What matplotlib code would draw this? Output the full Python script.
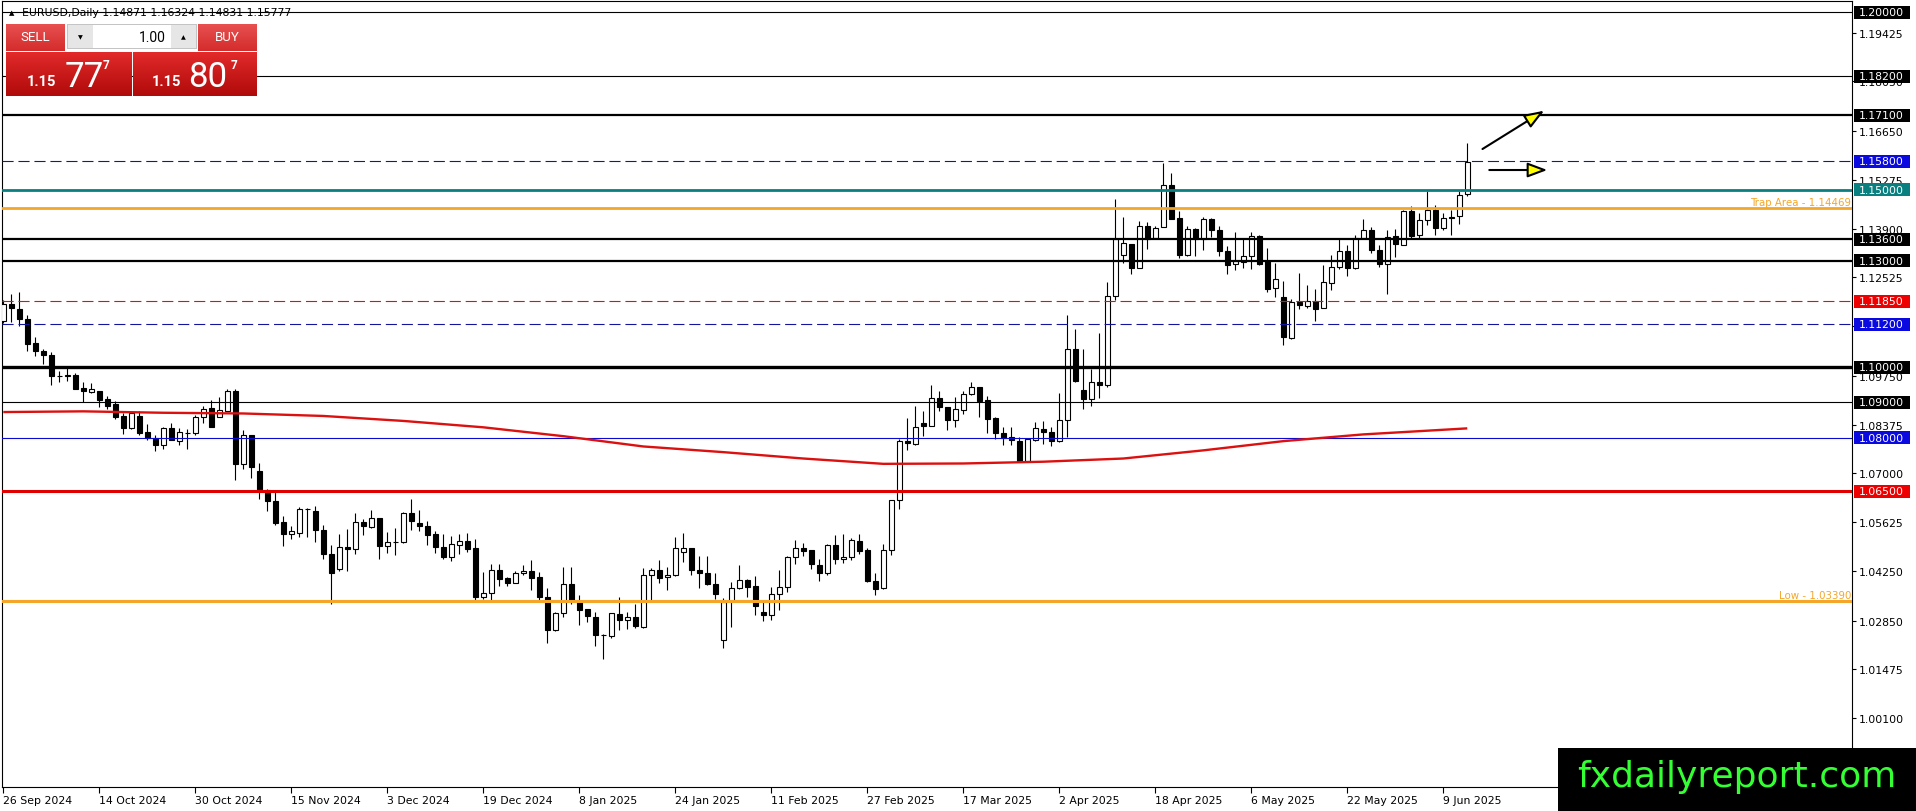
import matplotlib
matplotlib.use("Agg")
import matplotlib.pyplot as plt
import numpy as np
from matplotlib.patches import Rectangle
from matplotlib.colors import LinearSegmentedColormap

plt.rcParams["font.family"] = ["DejaVu Sans"]
plt.rcParams["lines.scale_dashes"] = False

W, H = 1916, 812

# EURUSD daily bars, 26 Sep 2024 .. 12 Jun 2025 (one value per bar)
opens = [
    1.1129, 1.1178, 1.1164, 1.1135, 1.1067, 1.1046, 1.1033, 1.0976, 1.0976, 1.0978,
    1.0941, 1.0929, 1.0931, 1.0910, 1.0895, 1.0862, 1.0828, 1.0863, 1.0816, 1.0801,
    1.0781, 1.0828, 1.0792, 1.0814, 1.0814, 1.0858, 1.0884, 1.0860, 1.0877, 1.0931,
    1.0727, 1.0807, 1.0708, 1.0654, 1.0623, 1.0564, 1.0529, 1.0531, 1.0599, 1.0595,
    1.0540, 1.0474, 1.0431, 1.0493, 1.0487, 1.0564, 1.0549, 1.0575, 1.0496, 1.0507,
    1.0507, 1.0587, 1.0559, 1.0552, 1.0528, 1.0493, 1.0464, 1.0499, 1.0510, 1.0490,
    1.0351, 1.0363, 1.0428, 1.0404, 1.0391, 1.0420, 1.0426, 1.0407, 1.0352, 1.0258,
    1.0307, 1.0389, 1.0338, 1.0317, 1.0296, 1.0244, 1.0241, 1.0304, 1.0286, 1.0296,
    1.0266, 1.0413, 1.0428, 1.0408, 1.0413, 1.0479, 1.0491, 1.0429, 1.0419, 1.0389,
    1.0231, 1.0341, 1.0377, 1.0400, 1.0382, 1.0309, 1.0302, 1.0360, 1.0380, 1.0463,
    1.0490, 1.0483, 1.0443, 1.0419, 1.0499, 1.0458, 1.0464, 1.0509, 1.0483, 1.0397,
    1.0377, 1.0483, 1.0625, 1.0790, 1.0784, 1.0842, 1.0835, 1.0912, 1.0887, 1.0851,
    1.0880, 1.0923, 1.0945, 1.0907, 1.0856, 1.0813, 1.0802, 1.0792, 1.0736, 1.0795,
    1.0825, 1.0818, 1.0792, 1.0851, 1.1052, 1.0935, 1.0910, 1.0959, 1.0949, 1.1200,
    1.1317, 1.1347, 1.1280, 1.1397, 1.1363, 1.1395, 1.1514, 1.1420, 1.1315, 1.1390,
    1.1362, 1.1418, 1.1387, 1.1327, 1.1290, 1.1296, 1.1313, 1.1369, 1.1299, 1.1223,
    1.1198, 1.1083, 1.1183, 1.1172, 1.1185, 1.1167, 1.1237, 1.1282, 1.1327, 1.1279,
    1.1364, 1.1387, 1.1331, 1.1290, 1.1369, 1.1343, 1.1440, 1.1373, 1.1415, 1.1444,
    1.1392, 1.1423, 1.1425, 1.14871,
]
highs = [
    1.1190, 1.1206, 1.1212, 1.1148, 1.1084, 1.1052, 1.1042, 1.0988, 1.0997, 1.0983,
    1.0958, 1.0954, 1.0933, 1.0917, 1.0903, 1.0871, 1.0872, 1.0875, 1.0840, 1.0809,
    1.0830, 1.0842, 1.0828, 1.0826, 1.0865, 1.0891, 1.0908, 1.0915, 1.0938, 1.0938,
    1.0823, 1.0809, 1.0728, 1.0656, 1.0652, 1.0581, 1.0553, 1.0605, 1.0602, 1.0609,
    1.0554, 1.0498, 1.0530, 1.0543, 1.0587, 1.0571, 1.0597, 1.0575, 1.0535, 1.0545,
    1.0590, 1.0629, 1.0596, 1.0566, 1.0538, 1.0529, 1.0524, 1.0528, 1.0533, 1.0515,
    1.0423, 1.0445, 1.0445, 1.0409, 1.0425, 1.0441, 1.0456, 1.0423, 1.0376, 1.0310,
    1.0437, 1.0435, 1.0357, 1.0317, 1.0310, 1.0248, 1.0307, 1.0352, 1.0310, 1.0331,
    1.0433, 1.0433, 1.0457, 1.0435, 1.0521, 1.0533, 1.0491, 1.0466, 1.0466, 1.0420,
    1.0348, 1.0394, 1.0441, 1.0403, 1.0411, 1.0337, 1.0380, 1.0429, 1.0466, 1.0512,
    1.0505, 1.0483, 1.0458, 1.0502, 1.0526, 1.0528, 1.0518, 1.0529, 1.0490, 1.0420,
    1.0502, 1.0625, 1.0797, 1.0856, 1.0889, 1.0875, 1.0948, 1.0931, 1.0887, 1.0915,
    1.0933, 1.0957, 1.0945, 1.0917, 1.0860, 1.0831, 1.0830, 1.0804, 1.0800, 1.0846,
    1.0849, 1.0830, 1.0926, 1.1148, 1.1107, 1.1050, 1.0993, 1.1095, 1.1240, 1.1474,
    1.1422, 1.1347, 1.1413, 1.1408, 1.1397, 1.1575, 1.1548, 1.1440, 1.1398, 1.1393,
    1.1423, 1.1421, 1.1398, 1.1341, 1.1381, 1.1364, 1.1381, 1.1373, 1.1336, 1.1294,
    1.1243, 1.1193, 1.1265, 1.1230, 1.1221, 1.1289, 1.1317, 1.1360, 1.1343, 1.1373,
    1.1418, 1.1394, 1.1343, 1.1385, 1.1390, 1.1444, 1.1454, 1.1435, 1.1495, 1.1456,
    1.1435, 1.1444, 1.1495, 1.16324,
]
lows = [
    1.1125, 1.1127, 1.1115, 1.1046, 1.1032, 1.1008, 1.0950, 1.0957, 1.0961, 1.0937,
    1.0901, 1.0927, 1.0888, 1.0881, 1.0853, 1.0812, 1.0826, 1.0809, 1.0793, 1.0762,
    1.0769, 1.0793, 1.0781, 1.0769, 1.0809, 1.0842, 1.0830, 1.0858, 1.0875, 1.0682,
    1.0713, 1.0688, 1.0628, 1.0595, 1.0555, 1.0495, 1.0515, 1.0522, 1.0522, 1.0508,
    1.0460, 1.0333, 1.0425, 1.0425, 1.0474, 1.0526, 1.0547, 1.0458, 1.0477, 1.0470,
    1.0505, 1.0540, 1.0538, 1.0498, 1.0477, 1.0460, 1.0454, 1.0472, 1.0479, 1.0343,
    1.0346, 1.0344, 1.0383, 1.0382, 1.0390, 1.0413, 1.0372, 1.0342, 1.0222, 1.0255,
    1.0296, 1.0333, 1.0272, 1.0280, 1.0213, 1.0176, 1.0237, 1.0258, 1.0260, 1.0265,
    1.0264, 1.0342, 1.0391, 1.0370, 1.0411, 1.0450, 1.0413, 1.0378, 1.0384, 1.0347,
    1.0208, 1.0268, 1.0375, 1.0351, 1.0302, 1.0283, 1.0288, 1.0314, 1.0367, 1.0444,
    1.0466, 1.0431, 1.0398, 1.0415, 1.0446, 1.0448, 1.0455, 1.0472, 1.0394, 1.0356,
    1.0375, 1.0469, 1.0601, 1.0767, 1.0781, 1.0806, 1.0834, 1.0877, 1.0823, 1.0831,
    1.0868, 1.0921, 1.0860, 1.0814, 1.0798, 1.0781, 1.0779, 1.0734, 1.0734, 1.0792,
    1.0783, 1.0776, 1.0788, 1.0803, 1.0959, 1.0882, 1.0889, 1.0912, 1.0945, 1.1188,
    1.1294, 1.1263, 1.1279, 1.1333, 1.1360, 1.1394, 1.1416, 1.1306, 1.1313, 1.1313,
    1.1329, 1.1367, 1.1313, 1.1263, 1.1273, 1.1279, 1.1277, 1.1289, 1.1212, 1.1198,
    1.1063, 1.1080, 1.1163, 1.1167, 1.1129, 1.1165, 1.1216, 1.1276, 1.1256, 1.1275,
    1.1360, 1.1322, 1.1282, 1.1207, 1.1310, 1.1343, 1.1360, 1.1360, 1.1401, 1.1371,
    1.1385, 1.1371, 1.1404, 1.14831,
]
closes = [
    1.1178, 1.1167, 1.1134, 1.1066, 1.1044, 1.1033, 1.0976, 1.0975, 1.0977, 1.0939,
    1.0933, 1.0937, 1.0908, 1.0891, 1.0860, 1.0828, 1.0870, 1.0814, 1.0799, 1.0781,
    1.0828, 1.0794, 1.0816, 1.0815, 1.0860, 1.0882, 1.0832, 1.0878, 1.0931, 1.0727,
    1.0807, 1.0718, 1.0653, 1.0622, 1.0559, 1.0529, 1.0538, 1.0599, 1.0600, 1.0540,
    1.0472, 1.0420, 1.0493, 1.0487, 1.0564, 1.0552, 1.0575, 1.0496, 1.0507, 1.0508,
    1.0587, 1.0565, 1.0552, 1.0526, 1.0492, 1.0463, 1.0502, 1.0510, 1.0488, 1.0351,
    1.0363, 1.0428, 1.0402, 1.0392, 1.0420, 1.0426, 1.0406, 1.0351, 1.0258, 1.0307,
    1.0389, 1.0341, 1.0315, 1.0298, 1.0244, 1.0244, 1.0307, 1.0286, 1.0296, 1.0269,
    1.0413, 1.0428, 1.0406, 1.0413, 1.0490, 1.0490, 1.0427, 1.0419, 1.0387, 1.0360,
    1.0337, 1.0376, 1.0400, 1.0380, 1.0326, 1.0302, 1.0360, 1.0380, 1.0463, 1.0490,
    1.0481, 1.0444, 1.0419, 1.0499, 1.0460, 1.0464, 1.0513, 1.0480, 1.0397, 1.0375,
    1.0483, 1.0625, 1.0790, 1.0786, 1.0832, 1.0835, 1.0912, 1.0886, 1.0851, 1.0881,
    1.0923, 1.0945, 1.0905, 1.0854, 1.0814, 1.0800, 1.0793, 1.0736, 1.0798, 1.0828,
    1.0816, 1.0792, 1.0851, 1.1052, 1.0961, 1.0910, 1.0959, 1.0949, 1.1200, 1.1360,
    1.1349, 1.1279, 1.1397, 1.1361, 1.1391, 1.1514, 1.1418, 1.1315, 1.1390, 1.1362,
    1.1418, 1.1385, 1.1326, 1.1289, 1.1298, 1.1313, 1.1369, 1.1291, 1.1221, 1.1249,
    1.1085, 1.1183, 1.1174, 1.1185, 1.1163, 1.1240, 1.1282, 1.1327, 1.1279, 1.1364,
    1.1387, 1.1329, 1.1290, 1.1367, 1.1346, 1.1440, 1.1369, 1.1415, 1.1444, 1.1392,
    1.1420, 1.1420, 1.1484, 1.15777,
]

# date labels every 12 bars
date_labels = [
    "26 Sep 2024", "14 Oct 2024", "30 Oct 2024", "15 Nov 2024", "3 Dec 2024",
    "19 Dec 2024", "8 Jan 2025", "24 Jan 2025", "11 Feb 2025", "27 Feb 2025",
    "17 Mar 2025", "2 Apr 2025", "18 Apr 2025", "6 May 2025", "22 May 2025",
    "9 Jun 2025",
]

# moving average (bar index, value)
ma_bars = [0, 10, 20, 30, 40, 50, 60, 70, 80, 90, 100, 110, 120, 130, 140, 150, 160, 170, 183]
ma_values = [1.0873, 1.0875, 1.0871, 1.0869, 1.0862, 1.0848, 1.0830, 1.0805, 1.0776, 1.0760,
             1.0742, 1.0727, 1.0728, 1.0733, 1.0742, 1.0765, 1.0791, 1.0810, 1.0827]

# horizontal levels
level_prices = [1.20000, 1.18200, 1.17100, 1.15800, 1.15000, 1.13600, 1.13000,
                1.11850, 1.11200, 1.10000, 1.09000, 1.08000, 1.06500]
trap_price = 1.14469
low_price = 1.03390

# right axis ticks
tick_values = [1.19425, 1.18050, 1.16650, 1.15275, 1.13900, 1.12525, 1.11150,
               1.09750, 1.08375, 1.07000, 1.05625, 1.04250, 1.02850, 1.01475, 1.00100]

# quote panel
bid_big, ask_big = "77", "80"

# styles for the levels: (colour, width, dashed, label box colour)
level_styles = [
    ("black", 0.8, False, "black"),
    ("black", 0.8, False, "black"),
    ("black", 1.6, False, "black"),
    ("#14149c", 0.8, True, "#0a0ae0"),
    ("#0a7f7f", 2.0, False, "#0a7f7f"),
    ("black", 1.6, False, "black"),
    ("black", 1.6, False, "black"),
    ("#dd1111", 0.8, True, "#ee0000"),
    ("#14149c", 0.8, True, "#0a0ae0"),
    ("black", 2.4, False, "black"),
    ("black", 0.8, False, "black"),
    ("#0a0ad0", 0.8, False, "#0a0ae0"),
    ("#e00000", 2.2, False, "#ee0000"),
]
ORANGE = "#f4a62a"

fig = plt.figure(figsize=(W / 100, H / 100), dpi=100)
fig.patch.set_facecolor("white")

# main chart area in pixels: x 2..1852, y 2..788
ax = fig.add_axes([2 / W, 1 - 788 / H, 1850 / W, 786 / H])
ax.set_xlim(-0.16, 231.09)
ax.set_ylim(0.98159, 1.20319)
for sp in ax.spines.values():
    sp.set_linewidth(0.8)
    sp.set_color("black")

x = np.arange(len(opens))
o = np.array(opens)
c = np.array(closes)
hi = np.array(highs)
lo = np.array(lows)
up = c >= o

ax.vlines(x, lo, hi, color="black", lw=0.8, zorder=3)
ax.bar(x, np.abs(c - o), bottom=np.minimum(o, c), width=0.62,
       color=np.where(up, "white", "black"), edgecolor="black", lw=0.8, zorder=4)

# levels
for p, (col, lw, dashed, _) in zip(level_prices, level_styles):
    ls = (0, (8, 3.5)) if dashed else "-"
    ax.axhline(p, color=col, lw=lw, ls=ls, zorder=5)
ax.axhline(trap_price, color=ORANGE, lw=2.0, zorder=5)
ax.axhline(low_price, color=ORANGE, lw=2.2, zorder=5)

ax.plot(ma_bars, ma_values, color="#dd1010", lw=1.7, zorder=6, solid_capstyle="butt")

trans = ax.get_yaxis_transform()
ax.text(0.9995, trap_price + 0.0003, "Trap Area - 1.14469", transform=trans,
        ha="right", va="bottom", color=ORANGE, fontsize=7.4, zorder=7)
ax.text(0.9995, low_price + 0.0003, "Low - 1.03390", transform=trans,
        ha="right", va="bottom", color=ORANGE, fontsize=7.4, zorder=7)

# arrows
arrow_kw = dict(arrowstyle="-|>,head_length=1.2,head_width=0.45", fc="yellow",
                ec="black", lw=1.5, shrinkA=0, shrinkB=0)
ax.annotate("", xy=(192.6, 1.17226), xytext=(184.9, 1.16146), arrowprops=arrow_kw, zorder=8)
ax.annotate("", xy=(193.0, 1.15554), xytext=(185.75, 1.15554), arrowprops=arrow_kw, zorder=8)

# price axis
ax.yaxis.tick_right()
ax.set_yticks(tick_values, [f"{v:.5f}" for v in tick_values])
ax.tick_params(axis="y", length=3, width=0.8, pad=2, labelsize=7.8, colors="black")

half = 6.5 / 3547
for p, (_, _, _, box) in zip(level_prices, level_styles):
    ax.add_patch(Rectangle((1.0011, p - half), 0.0303, 2 * half, transform=trans,
                           clip_on=False, fc=box, ec="none", zorder=10))
    ax.text(1.0038, p, f"{p:.5f}", transform=trans, color="white", fontsize=7.8,
            va="center", ha="left", zorder=11, clip_on=False)

# date axis
ax.set_xticks(np.arange(len(date_labels)) * 12, date_labels)
ax.tick_params(axis="x", length=4, width=0.8, pad=2, labelsize=7.8)
for t in ax.get_xticklabels():
    t.set_ha("left")

# header
fig.text(9 / W, 1 - 13 / H, "\u25b2", fontsize=5, va="center", ha="left")
fig.text(22 / W, 1 - 13 / H, "EURUSD,Daily 1.14871 1.16324 1.14831 1.15777",
         fontsize=7.8, va="center", ha="left")


def px_axes(x0, y0, x1, y1):
    a = fig.add_axes([x0 / W, 1 - y1 / H, (x1 - x0) / W, (y1 - y0) / H])
    a.set_axis_off()
    a.set_xlim(0, 1)
    a.set_ylim(0, 1)
    return a


def gradient(a, top, bottom):
    cmap = LinearSegmentedColormap.from_list("g", [top, bottom])
    a.imshow(np.linspace(0, 1, 64)[:, None], aspect="auto", cmap=cmap,
             extent=(0, 1, 0, 1), origin="upper")


def ptext(px, py, s, **kw):
    fig.text(px / W, 1 - py / H, s, color="white", family=["Roboto", "DejaVu Sans"], **kw)


# trade panel
for x0, x1, label in [(6, 65, "SELL"), (198, 257, "BUY")]:
    b = px_axes(x0, 25, x1, 52)
    gradient(b, "#e85050", "#d42c2c")
    b.text(0.5, 0.55, label, color="white", fontsize=9.5, ha="center", va="center",
           family=["Roboto", "DejaVu Sans"])

sp_ = px_axes(67, 25, 197, 50)
sp_.add_patch(Rectangle((0, 0), 1, 1, fc="#c4c4c4", ec="none"))
for x0, x1, col in [(68, 93, "#e6e6e6"), (93, 171, "white"), (171, 196, "#e6e6e6")]:
    cell = px_axes(x0, 26, x1, 49)
    cell.add_patch(Rectangle((0, 0), 1, 1, fc=col, ec="none"))
fig.text(80 / W, 1 - 38 / H, "\u25bc", fontsize=4.5, ha="center", va="center")
fig.text(183 / W, 1 - 38 / H, "\u25b2", fontsize=4.5, ha="center", va="center")
fig.text(166 / W, 1 - 38 / H, "1.00", fontsize=10, ha="right", va="center",
         family=["Roboto", "DejaVu Sans"])

for x0, x1, big, sx, bx, tx in [(6, 131, bid_big, 27, 65, 103),
                                (133, 257, ask_big, 152, 188, 231)]:
    b = px_axes(x0, 53, x1, 97)
    gradient(b, "#e22a2a", "#b00a0a")
    ptext(sx, 86, "1.15", fontsize=10.5, fontweight="bold", ha="left", va="baseline")
    ptext(bx, 87, big, fontsize=25, ha="left", va="baseline")
    ptext(tx, 59, "7", fontsize=8.5, fontweight="bold", ha="left", va="top")

# watermark
wm = px_axes(1558, 749, 1916, 812)
wm.add_patch(Rectangle((0, 0), 1, 1, fc="black", ec="none"))
wm.text(0.5, 0.56, "fxdailyreport.com", color="#33ff33", fontsize=26,
        ha="center", va="center")

fig.savefig("out.png", dpi=100)
